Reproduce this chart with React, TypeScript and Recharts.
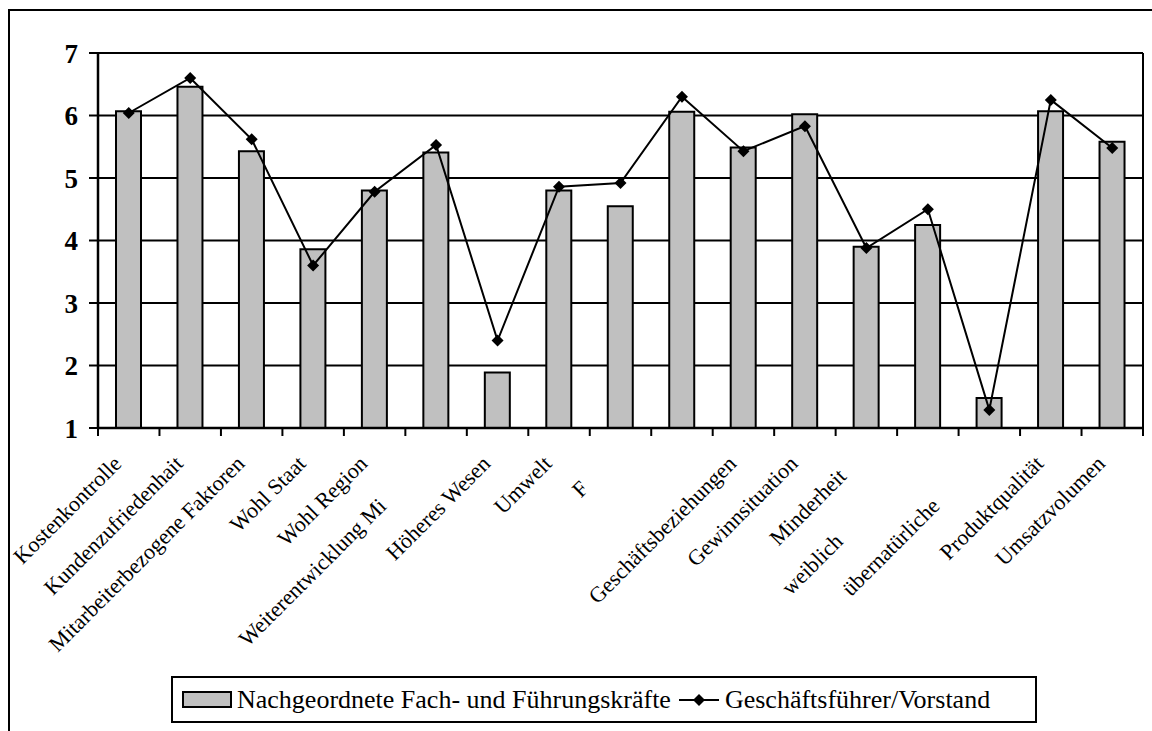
import React from "react";
import { Bar, CartesianGrid, ComposedChart, Line, XAxis, YAxis } from "recharts";

const categories = [
  "Kostenkontrolle",
  "Kundenzufriedenhait",
  "Mitarbeiterbezogene Faktoren",
  "Wohl Staat",
  "Wohl Region",
  "Weiterentwicklung Mi",
  "Höheres Wesen",
  "Umwelt",
  "F",
  "",
  "Geschäftsbeziehungen",
  "Gewinnsituation",
  "Minderheit",
  "weiblich",
  "übernatürliche",
  "Produktqualität",
  "Umsatzvolumen",
];

const fachkraefte = [6.07, 6.46, 5.43, 3.86, 4.8, 5.41, 1.89, 4.8, 4.55, 6.06, 5.49, 6.02, 3.9, 4.25, 1.48, 6.07, 5.58];
const vorstand = [6.04, 6.6, 5.62, 3.6, 4.78, 5.53, 2.4, 4.86, 4.92, 6.3, 5.43, 5.83, 3.88, 4.5, 1.29, 6.25, 5.48];

const yTicks = [1, 2, 3, 4, 5, 6, 7];
const seriesNames = ["Nachgeordnete Fach- und Führungskräfte", "Geschäftsführer/Vorstand"];

const data = categories.map((name, i) => ({
  name,
  fach: fachkraefte[i],
  vorstand: vorstand[i],
}));

const SERIF = '"Liberation Serif", "Times New Roman", serif';
const W = 1152;
const H = 731;
const PLOT_LEFT = 98;
const PLOT_RIGHT = 1143;
const PLOT_W = PLOT_RIGHT - PLOT_LEFT;

// some labels sit further down the diagonal (clipped ones in the original)
const labelShift: Record<number, number> = { 5: 60, 8: 35, 12: 18, 13: 110, 14: 60 };

const CategoryTick = (props: any) => {
  const { x, y, payload, index } = props;
  const band = PLOT_W / categories.length;
  const s = (labelShift[index] ?? 0) * Math.SQRT1_2;
  return (
    <g>
      <line x1={x - band / 2} x2={x - band / 2} y1={y} y2={y + 8} stroke="#000" strokeWidth={2} />
      {index === categories.length - 1 && (
        <line x1={x + band / 2} x2={x + band / 2} y1={y} y2={y + 8} stroke="#000" strokeWidth={2} />
      )}
      <text
        transform={`translate(${x - 6 - s},${y + 37 + s}) rotate(-45)`}
        textAnchor="end"
        fontSize={22}
        fontFamily={SERIF}
        fill="#000"
      >
        {payload.value}
      </text>
    </g>
  );
};

const Diamond = (props: any) => {
  const { cx, cy } = props;
  if (cx == null || cy == null) return null;
  const r = 6;
  return <polygon points={`${cx},${cy - r} ${cx + r},${cy} ${cx},${cy + r} ${cx - r},${cy}`} fill="#000" />;
};

export default function App() {
  return (
    <div style={{ position: "relative", width: W, height: H, overflow: "hidden", background: "#fff" }}>
      <style>{"body{margin:0}"}</style>
      <div
        style={{
          position: "absolute",
          left: 8,
          top: 9,
          width: 1160,
          height: 800,
          border: "2px solid #000",
          boxSizing: "border-box",
        }}
      />
      <div style={{ position: "absolute", left: 0, top: 0 }}>
        <ComposedChart width={W} height={H} data={data} margin={{ top: 53, right: 0, bottom: 0, left: 0 }}>
          <CartesianGrid yAxisId="left" vertical={false} stroke="#000" strokeWidth={2} />
          <XAxis
            dataKey="name"
            yAxisId="left"
            height={303}
            interval={0}
            tickSize={0}
            tickMargin={0}
            tickLine={false}
            axisLine={{ stroke: "#000", strokeWidth: 2.5 }}
            tick={<CategoryTick />}
          />
          <YAxis
            yAxisId="left"
            width={98}
            domain={[1, 7]}
            ticks={yTicks}
            interval={0}
            tickSize={9}
            tickMargin={11}
            axisLine={{ stroke: "#000", strokeWidth: 2.5 }}
            tickLine={{ stroke: "#000", strokeWidth: 2 }}
            tick={{ fill: "#000", fontSize: 27, fontWeight: 700, fontFamily: SERIF }}
          />
          <YAxis
            yAxisId="right"
            orientation="right"
            width={9}
            domain={[1, 7]}
            tick={false}
            tickLine={false}
            axisLine={{ stroke: "#000", strokeWidth: 2 }}
          />
          <Bar
            yAxisId="left"
            dataKey="fach"
            name={seriesNames[0]}
            fill="#c0c0c0"
            stroke="#000"
            strokeWidth={2}
            barSize={25}
            isAnimationActive={false}
          />
          <Line
            yAxisId="left"
            dataKey="vorstand"
            name={seriesNames[1]}
            type="linear"
            stroke="#000"
            strokeWidth={2}
            dot={<Diamond />}
            activeDot={false}
            isAnimationActive={false}
          />
        </ComposedChart>
      </div>
      <div
        style={{
          position: "absolute",
          left: 171,
          top: 676,
          width: 866,
          height: 47,
          border: "2px solid #000",
          boxSizing: "border-box",
          background: "#fff",
          display: "flex",
          alignItems: "center",
          fontFamily: SERIF,
          fontSize: 26,
          color: "#000",
          whiteSpace: "nowrap",
        }}
      >
        <span
          style={{
            display: "inline-block",
            marginLeft: 9,
            width: 50,
            height: 17,
            background: "#c0c0c0",
            border: "2px solid #000",
            boxSizing: "border-box",
          }}
        />
        <span style={{ marginLeft: 5 }}>{seriesNames[0]}</span>
        <svg width={40} height={20} style={{ marginLeft: 8 }}>
          <line x1={0} x2={40} y1={10} y2={10} stroke="#000" strokeWidth={2} />
          <polygon points="20,4 26,10 20,16 14,10" fill="#000" />
        </svg>
        <span style={{ marginLeft: 6 }}>{seriesNames[1]}</span>
      </div>
    </div>
  );
}
